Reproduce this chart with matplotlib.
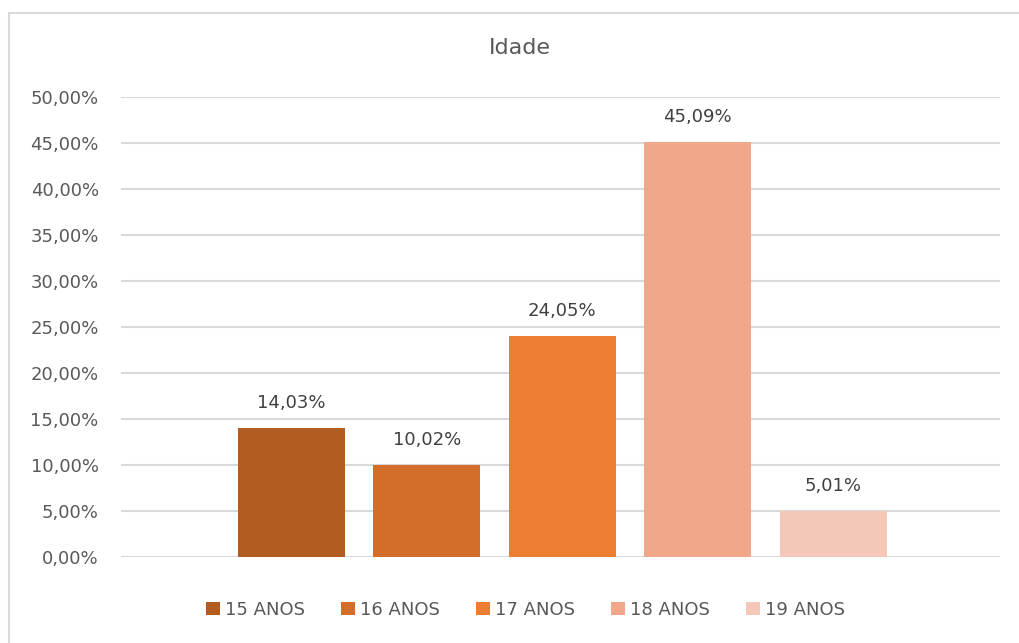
import matplotlib.pyplot as plt
from matplotlib.lines import Line2D
from matplotlib.patches import Patch
from matplotlib.ticker import FuncFormatter

categories = ["15 ANOS", "16 ANOS", "17 ANOS", "18 ANOS", "19 ANOS"]
values = [14.03, 10.02, 24.05, 45.09, 5.01]
colors = ["#B35C22", "#D36E2A", "#ED7D31", "#F1A88A", "#F4C7B8"]

TEXT = "#595959"
GRID = "#D9D9D9"


def pct(v, pos=None):
  return f"{v:.2f}%".replace(".", ",")


fig = plt.figure(figsize=(10.19, 6.43), dpi=100)
ax = fig.add_axes([0.1187, 0.1337, 0.8623, 0.7154])

x = list(range(len(values)))
bars = ax.bar(x, values, width=0.79, color=colors, zorder=3)

for xi, v in zip(x, values):
  ax.annotate(pct(v), (xi, v), xytext=(0, 18), textcoords="offset points",
              ha="center", va="center", fontsize=13, color="#404040")

ax.set_xlim(-1.26, 5.23)
ax.set_ylim(0, 50)
ax.set_yticks(range(0, 51, 5))
ax.yaxis.set_major_formatter(FuncFormatter(pct))
ax.set_xticks([])
ax.tick_params(axis="y", length=0, labelsize=13, labelcolor=TEXT, pad=16)
ax.grid(axis="y", color=GRID, linewidth=1.5, zorder=0)
for s in ax.spines.values():
  s.set_visible(False)

fig.text(520 / 1019, 1 - 48 / 643, "Idade", ha="center", va="center",
         fontsize=16, color=TEXT)

handles = [Patch(facecolor=c, edgecolor="none") for c in colors]
fig.legend(handles, categories, loc="center", bbox_to_anchor=(0.516, 1 - 610 / 643),
           ncol=5, frameon=False, fontsize=13, labelcolor=TEXT,
           handlelength=0.75, handleheight=0.75, handletextpad=0.3,
           columnspacing=2.0)

# chart frame (only top and left edges visible)
fig.add_artist(Line2D([9 / 1019, 9 / 1019], [0, 1 - 13 / 643],
                      color=GRID, linewidth=1.5))
fig.add_artist(Line2D([9 / 1019, 1018 / 1019], [1 - 13 / 643, 1 - 13 / 643],
                      color=GRID, linewidth=1.5))

fig.savefig("out.png", dpi=100)
